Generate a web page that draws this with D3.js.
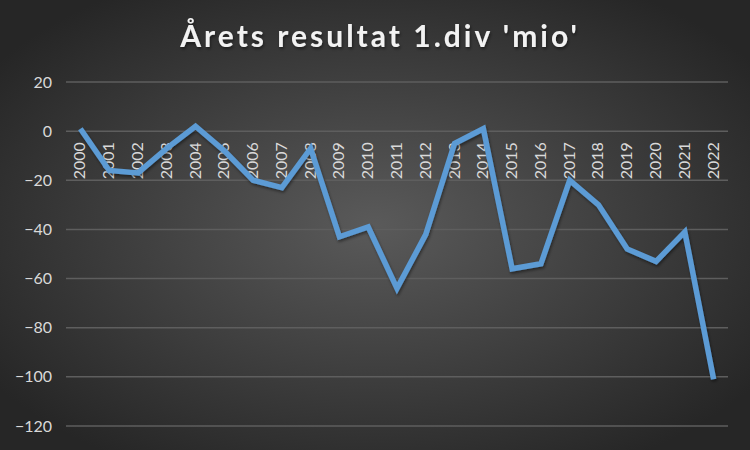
<!DOCTYPE html>
<html>
<head>
<meta charset="utf-8">
<script src="https://cdn.jsdelivr.net/npm/d3@7"></script>
<style>
  body { margin: 0; background: #2b2b2b; }
  svg { display: block; }
</style>
</head>
<body>
<div id="chart"></div>
<script>
const years = ["2000", "2001", "2002", "2003", "2004", "2005", "2006", "2007", "2008", "2009", "2010", "2011",
    "2012", "2013", "2014", "2015", "2016", "2017", "2018", "2019", "2020", "2021", "2022"];
const result = [1, -16, -17, -7, 2, -8, -20, -23, -7, -43, -39, -64,
    -42, -5, 1, -56, -54, -20, -30, -48, -53, -41, -101];
const yTicks = [20, 0, -20, -40, -60, -80, -100, -120];
const title = "Årets resultat 1.div 'mio'";

const width = 750, height = 450;
const margin = { top: 82, right: 22, bottom: 24, left: 66 };

const svg = d3.select('#chart').append('svg')
    .attr('width', width)
    .attr('height', height);

const defs = svg.append('defs');
const grad = defs.append('radialGradient')
    .attr('id', 'bg')
    .attr('cx', '50%').attr('cy', '50%').attr('r', '62%');
grad.append('stop').attr('offset', '0%').attr('stop-color', '#5a5a5a');
grad.append('stop').attr('offset', '100%').attr('stop-color', '#262626');

const shadow = defs.append('filter').attr('id', 'shadow')
    .attr('x', '-10%').attr('y', '-10%').attr('width', '120%').attr('height', '130%');
shadow.append('feDropShadow')
    .attr('dx', 1).attr('dy', 2).attr('stdDeviation', 1.5)
    .attr('flood-color', '#000').attr('flood-opacity', 0.45);

svg.append('rect')
    .attr('width', width).attr('height', height)
    .attr('fill', 'url(#bg)');

const x = d3.scaleBand()
    .domain(years)
    .range([margin.left, width - margin.right]);

const y = d3.scaleLinear()
    .domain([-120, 20])
    .range([height - margin.bottom, margin.top]);

// gridlines
svg.append('g')
    .selectAll('line')
    .data(yTicks)
    .join('line')
    .attr('x1', margin.left)
    .attr('x2', width - margin.right)
    .attr('y1', d => y(d))
    .attr('y2', d => y(d))
    .attr('stroke', '#5e5e5e')
    .attr('stroke-width', 1.5);

// y axis labels
const yAxis = svg.append('g')
    .attr('transform', `translate(${margin.left - 14},0)`)
    .call(d3.axisLeft(y).tickValues(yTicks).tickSize(0).tickPadding(0));
yAxis.select('.domain').remove();
yAxis.selectAll('text')
    .attr('fill', '#d9d9d9')
    .style('font-family', 'Lato, "Open Sans", sans-serif')
    .style('font-size', '16px');

// x axis labels, rotated, hanging below the zero line
const xAxis = svg.append('g')
    .attr('transform', `translate(0,${y(0)})`)
    .call(d3.axisBottom(x).tickSize(0).tickPadding(0));
xAxis.select('.domain').remove();
xAxis.selectAll('text')
    .attr('fill', '#d9d9d9')
    .style('font-family', 'Lato, "Open Sans", sans-serif')
    .style('font-size', '16px')
    .attr('text-anchor', 'end')
    .attr('dy', null)
    .attr('transform', 'translate(5,11) rotate(-90)');

// line
const line = d3.line()
    .x((d, i) => x(years[i]) + x.bandwidth() / 2)
    .y(d => y(d));

svg.append('path')
    .datum(result)
    .attr('d', line)
    .attr('fill', 'none')
    .attr('stroke', '#5b9bd5')
    .attr('stroke-width', 5.5)
    .attr('stroke-linejoin', 'miter')
    .attr('filter', 'url(#shadow)');

// title
svg.append('text')
    .attr('x', 380)
    .attr('y', 47)
    .attr('text-anchor', 'middle')
    .attr('fill', '#f2f2f2')
    .attr('filter', 'url(#shadow)')
    .style('font-family', 'Lato, "Open Sans", sans-serif')
    .style('font-weight', 'bold')
    .style('font-size', '30px')
    .style('letter-spacing', '3px')
    .text(title);
</script>
</body>
</html>
